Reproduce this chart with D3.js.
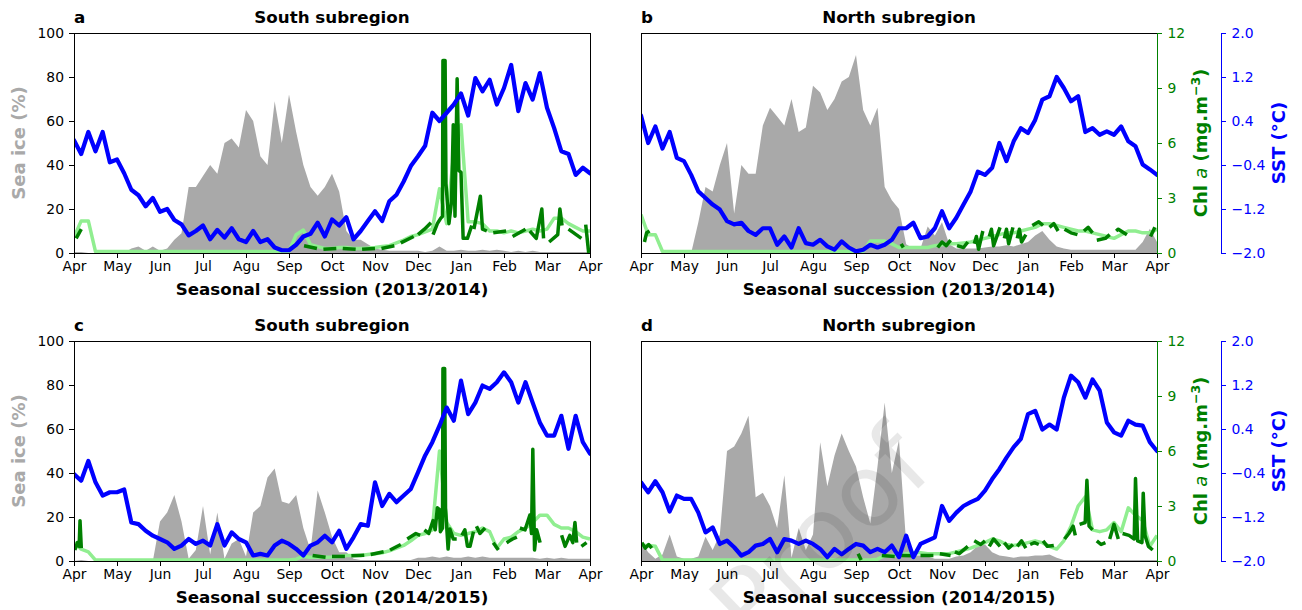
<!DOCTYPE html>
<html>
<head>
<meta charset="utf-8">
<script src="https://cdn.jsdelivr.net/npm/d3@7"></script>
<style>
  body { margin: 0; background: #fff; }
  text { font-family: "DejaVu Sans", sans-serif; }
</style>
</head>
<body>
<svg id="chart" width="1302" height="610"></svg>
<script>
// month ticks (season runs April -> April)
const monthLabels = ["Apr", "May", "Jun", "Jul", "Agu", "Sep", "Oct", "Nov", "Dec", "Jan", "Feb", "Mar", "Apr"];
const iceTicks = [0, 20, 40, 60, 80, 100];
const chlTicks = [0, 3, 6, 9, 12];
const sstTicks = [-2.0, -1.2, -0.4, 0.4, 1.2, 2.0];

// sampled series: one value every 1/6 month (~5 days), 73 values, Apr -> Apr
const STEP = 1 / 6;

// ---- a: South 2013/2014
const iceA = [0.5,0.5,0,0,0,0,0,0,2,3, 1,3,1,2,6,9,30,30,35,40, 36,50,52,48,65,60,44,40,69,50,
  72,55,40,30,26,30,36,28,10,6, 6,4,2,1.5,1,1,1,1,1,0.5, 1,3,1,1,1.5,1,1,1.5,1,1.5,
  1,0.5,1,0.5,1,0.5,0.5,0.5,0.5,0.5, 0.5,0.5,0.5];
const sstA = [0.05,-0.2,0.2,-0.15,0.2,-0.35,-0.3,-0.55,-0.85,-0.95, -1.15,-1.0,-1.25,-1.2,-1.4,-1.48,-1.68,-1.6,-1.5,-1.75,
  -1.58,-1.72,-1.55,-1.75,-1.8,-1.6,-1.8,-1.75,-1.9,-1.95, -1.95,-1.85,-1.7,-1.65,-1.45,-1.7,-1.39,-1.5,-1.35,-1.75,
  -1.6,-1.42,-1.24,-1.42,-1.06,-0.94,-0.7,-0.42,-0.24,-0.05, 0.55,0.4,0.55,0.7,0.9,0.5,1.18,0.94,1.15,0.7,
  1.0,1.42,0.58,1.09,0.79,1.27,0.64,0.27,-0.15,-0.2, -0.58,-0.45,-0.55];
const chlFillA = [0.85,1.75,1.75,0.08,0.08,0.08,0.08,0.08,0.08,0.08, 0.08,0.08,0.08,0.08,0.08,0.08,0.08,0.08,0.08,0.08,
  0.08,0.08,0.08,0.08,0.08,0.08,0.08,0.08,0.08,0.08, 0.08,1.0,1.25,0.45,0.35,0.25,0.25,0.3,0.3,0.25,
  0.25,0.27,0.3,0.35,0.4,0.55,0.7,0.9,1.0,1.15, 1.3,3.5,1.6,5.5,7.0,1.7,1.7,1.6,1.2,1.2,
  1.1,1.2,1.1,1.2,1.3,1.2,1.3,1.9,1.9,1.6, 1.4,1.2,1.2];
// observed chl: runs of [month, value] between missing days
const chlA = [
  [[0.05,0.8],[0.17,1.3]],
  [[5.35,0.4],[5.65,0.25]], [[5.8,0.2],[6.1,0.25]], [[6.25,0.25],[6.55,0.2]], [[6.7,0.2],[7.0,0.25]],
  [[7.15,0.25],[7.45,0.4]], [[7.6,0.55],[7.9,0.9]], [[8.0,1.0],[8.15,1.3],[8.3,1.65]],
  [[8.35,1.0],[8.45,1.6],[8.53,1.9],[8.57,2.0],[8.58,10.5],[8.63,10.5],[8.65,3.8],[8.72,1.6],[8.78,2.8],[8.82,7.0],
   [8.86,2.0],[8.91,9.5],[8.95,4.5],[9.0,4.4],[9.05,0.8],[9.15,0.8],[9.25,1.5]],
  [[9.3,1.3],[9.45,3.1],[9.5,1.3],[9.6,1.2]], [[9.75,1.1],[10.05,1.2]], [[10.2,0.9],[10.5,1.3]],
  [[10.6,1.2],[10.75,0.8],[10.88,2.4],[10.92,0.8]], [[11.05,0.6],[11.25,1.0],[11.3,2.4],[11.35,1.5]],
  [[11.5,1.3],[11.8,0.8]], [[11.9,1.55],[11.97,0.0]]
];

// ---- b: North 2013/2014
const iceB = [0,0,0,0,0,0,0,0,14,30, 28,40,50,18,40,36,36,58,66,62, 58,70,55,57,76,73,65,70,78,80,
  90,65,58,66,30,24,20,4,2,2, 12,8,14,4,2,2,2,2,2.5,3, 3,3.5,3,4,5,8,10,6,3,2,
  1.5,1.5,1.5,1.5,1.5,1.5,1.5,1.5,1.5,1.5, 5,11,5];
const sstB = [0.5,0.0,0.3,-0.1,0.2,-0.27,-0.33,-0.58,-0.88,-1.0, -1.12,-1.21,-1.42,-1.48,-1.45,-1.6,-1.67,-1.55,-1.55,-1.85,
  -1.7,-1.9,-1.55,-1.82,-1.85,-1.76,-1.88,-1.94,-1.79,-1.9, -1.97,-1.94,-1.85,-1.9,-1.85,-1.76,-1.55,-1.55,-1.45,-1.73,
  -1.7,-1.55,-1.24,-1.55,-1.36,-1.12,-0.88,-0.52,-0.58,-0.45, 0.0,-0.33,0.03,0.27,0.18,0.42,0.79,0.85,1.2,1.0,
  0.76,0.85,0.2,0.27,0.15,0.21,0.15,0.3,0.03,-0.06, -0.39,-0.48,-0.58];
const chlFillB = [2.1,1.0,1.0,0.08,0.08,0.08,0.08,0.08,0.08,0.08, 0.08,0.08,0.08,0.08,0.08,0.08,0.08,0.08,0.08,0.08,
  0.08,0.08,0.08,0.08,0.08,0.08,0.08,0.08,0.08,0.08, 0.08,0.08,0.65,0.65,0.65,0.5,0.3,0.3,0.3,0.3,
  0.3,0.4,0.45,0.5,0.5,0.55,0.6,0.7,0.8,0.9, 1.0,1.1,1.1,1.2,1.3,1.4,1.6,1.6,1.5,1.4,
  1.3,1.2,1.2,1.1,1.0,0.9,0.8,1.0,1.2,1.2, 1.1,1.1,1.3];
const chlB = [
  [[0.08,0.6],[0.13,1.1],[0.2,1.2]], [[6.05,0.5],[6.1,0.3]],
  [[6.9,0.3],[7.0,0.6],[7.1,0.4],[7.2,0.7]], [[7.35,0.4],[7.5,0.3],[7.6,0.6]],
  [[7.75,0.5],[7.8,0.9],[7.85,0.2],[7.95,1.2]], [[8.1,0.9],[8.15,1.3],[8.2,0.4],[8.35,1.4]],
  [[8.45,0.8],[8.5,1.3],[8.55,0.5],[8.65,1.4]], [[8.75,0.8],[8.8,1.3],[8.85,0.6],[8.95,1.0]],
  [[9.1,1.5],[9.25,1.7],[9.35,1.5]], [[9.5,1.4],[9.6,1.6],[9.7,1.2]], [[9.85,1.3],[10.0,1.1],[10.15,1.0]],
  [[10.3,1.2],[10.4,1.4],[10.5,1.1]], [[10.6,0.7],[10.8,0.8],[10.9,1.0]], [[11.05,1.2],[11.1,1.3],[11.3,1.0]],
  [[11.85,0.9],[11.95,1.4]]
];

// ---- c: South 2014/2015
const iceC = [0,0.5,0,0,0,0,0,0,0,0, 0,0,18,22,30,18,1,5,25,3, 22,1,8,10,2,22,25,38,42,27,
  26,30,15,5,32,22,11,4,4,1, 0.5,0.5,0.5,0.5,0.5,0.5,0.5,0.5,1.5,1.5, 2,1.5,2,1.5,1.5,2,1.5,2,1.5,1.5,
  1.5,1.5,1.5,1.5,1.5,1,1.5,1,1.5,1, 1,1,1];
const sstC = [-0.42,-0.54,-0.18,-0.57,-0.81,-0.75,-0.75,-0.7,-1.3,-1.33, -1.45,-1.54,-1.6,-1.66,-1.78,-1.72,-1.6,-1.69,-1.63,-1.72,
  -1.33,-1.72,-1.48,-1.6,-1.66,-1.9,-1.87,-1.9,-1.72,-1.63, -1.69,-1.78,-1.9,-1.72,-1.66,-1.54,-1.66,-1.45,-1.78,-1.57,
  -1.33,-1.36,-0.57,-1.0,-0.78,-0.93,-0.81,-0.69,-0.39,-0.08, 0.16,0.46,0.79,0.55,1.28,0.67,0.88,1.19,1.13,1.25,
  1.43,1.25,0.88,1.25,0.88,0.52,0.28,0.28,0.64,0.04, 0.64,0.16,-0.05];
const chlFillC = [1.0,0.65,0.5,0.05,0.05,0.05,0.05,0.05,0.05,0.05, 0.05,0.05,0.05,0.05,0.05,0.05,0.05,0.05,0.05,0.05,
  0.05,0.05,0.05,0.05,0.05,0.05,0.05,0.05,0.05,0.05, 0.05,0.1,0.25,0.2,0.2,0.2,0.22,0.25,0.3,0.3,
  0.3,0.35,0.4,0.45,0.55,0.7,0.85,1.1,1.4,1.5, 1.7,6.0,2.1,1.5,1.4,1.5,1.6,1.8,1.6,0.7,
  1.2,1.3,1.6,1.8,2.1,2.5,2.5,2.0,1.8,1.8, 1.6,1.3,1.2];
const chlC = [
  [[0.02,0.6],[0.08,1.0],[0.12,0.8],[0.14,2.2],[0.17,0.7]],
  [[5.55,0.3],[5.85,0.2]], [[6.0,0.25],[6.3,0.25]], [[6.45,0.28],[6.75,0.32]], [[6.9,0.35],[7.2,0.5]],
  [[7.35,0.6],[7.6,0.9]], [[7.75,1.2],[7.95,1.5],[8.05,1.4]],
  [[8.15,1.7],[8.25,1.5],[8.35,2.2],[8.4,1.7],[8.45,2.9],[8.5,2.8],[8.52,1.6],[8.57,1.8],[8.58,10.5],[8.62,10.5],
   [8.64,2.9],[8.7,0.65],[8.74,1.75],[8.82,1.2],[8.9,1.2]],
  [[9.02,1.4],[9.09,1.7],[9.15,0.8],[9.21,0.8],[9.29,1.6]], [[9.36,1.9],[9.44,1.5],[9.56,1.8]],
  [[9.75,1.0],[9.87,0.6]], [[10.06,1.0],[10.2,1.2],[10.3,1.3]],
  [[10.37,1.8],[10.49,1.7],[10.6,2.5],[10.64,1.5],[10.67,6.1],[10.71,0.6],[10.76,1.7],[10.84,1.0]],
  [[11.34,1.4],[11.42,0.8],[11.53,1.4],[11.6,1.0],[11.65,2.1],[11.69,1.0]], [[11.8,0.8],[11.92,1.0]]
];

// ---- d: North 2014/2015
const iceD = [9,4,1,3,12,2,1,1,2,11, 5,12,50,52,58,66,29,31,25,15, 39,1.5,15,5,12,54,34,48,58,50,
  43,29,17,43,72,40,55,8,2.5,2.5, 2,1,1,1,2,2.5,4,7,7.5,4, 2.5,2,1.5,2,2,2.5,2.5,3,1.5,0.5,
  0.5,0.5,0.5,0.5,0.5,0.5,0.5,0.5,0.5,0.5, 0.5,0.5,0.5];
const sstD = [-0.57,-0.75,-0.55,-0.75,-1.1,-0.81,-0.87,-0.87,-1.12,-1.48, -1.39,-1.69,-1.63,-1.75,-1.9,-1.84,-1.72,-1.69,-1.6,-1.84,
  -1.6,-1.63,-1.69,-1.63,-1.69,-1.78,-1.93,-1.78,-1.88,-1.78, -1.69,-1.72,-1.84,-1.78,-1.84,-1.72,-1.93,-1.54,-1.93,-1.69,
  -1.63,-1.57,-1.0,-1.27,-1.12,-1.0,-0.93,-0.87,-0.72,-0.51, -0.33,-0.12,0.07,0.22,0.67,0.73,0.39,0.48,0.39,0.97,
  1.37,1.25,0.97,1.3,1.1,0.52,0.34,0.28,0.55,0.48, 0.46,0.16,0.0];
const chlFillD = [0.85,0.85,0.8,0.05,0.05,0.05,0.05,0.05,0.05,0.05, 0.05,0.05,0.05,0.05,0.05,0.05,0.05,0.05,0.05,0.05,
  0.05,0.05,0.05,0.05,0.05,0.05,0.05,0.05,0.05,0.05, 0.05,0.05,0.05,0.1,0.3,0.3,0.3,0.4,0.45,0.45,
  0.4,0.4,0.4,0.4,0.5,0.6,0.7,0.85,1.0,1.2, 1.1,0.9,0.85,0.9,1.0,1.1,1.0,0.8,0.65,1.1,
  1.9,3.0,3.5,1.7,1.6,1.7,2.1,1.6,2.9,2.5, 2.2,0.8,1.4];
const chlD = [
  [[0.02,1.0],[0.1,0.7],[0.18,0.9],[0.25,0.7]], [[5.05,0.4],[5.12,0.05]],
  [[5.6,0.3],[5.9,0.25]], [[6.05,0.3],[6.35,0.28]], [[6.5,0.3],[6.8,0.3]], [[6.95,0.4],[7.2,0.3]],
  [[7.3,0.5],[7.4,0.4],[7.6,0.8]], [[7.75,1.1],[7.9,0.9],[8.0,1.1]], [[8.1,0.8],[8.2,1.2],[8.35,0.8]],
  [[8.45,1.0],[8.55,0.7],[8.65,0.9]], [[8.75,0.8],[8.85,1.1],[8.95,0.7]], [[9.05,0.9],[9.15,1.0],[9.25,0.9]],
  [[9.35,1.1],[9.45,0.8],[9.6,0.85]], [[9.85,1.2],[9.95,1.5],[10.05,1.9],[10.1,1.4]],
  [[10.2,2.0],[10.33,2.1],[10.37,4.4],[10.42,1.9],[10.5,1.7]], [[10.6,1.1],[10.7,0.9],[10.8,1.0]],
  [[10.9,1.2],[11.0,2.0],[11.1,1.2]],
  [[11.2,1.5],[11.35,1.4],[11.47,1.2],[11.5,4.5],[11.55,1.1],[11.65,1.0],[11.68,3.7],[11.72,1.4],[11.8,0.8],[11.9,0.6]]
];


const COLORS = {
    ice: "#a9a9a9",
    chlFill: "#90ee90",
    chl: "green",
    sst: "blue"
};

const W = 516, H = 220;

const panels = [
    { tag: "a", title: "South subregion", season: "2013/2014", ice: iceA, sst: sstA, fill: chlFillA, chl: chlA, left: 74, top: 33, first: true },
    { tag: "b", title: "North subregion", season: "2013/2014", ice: iceB, sst: sstB, fill: chlFillB, chl: chlB, left: 641, top: 33, first: false },
    { tag: "c", title: "South subregion", season: "2014/2015", ice: iceC, sst: sstC, fill: chlFillC, chl: chlC, left: 74, top: 341, first: true },
    { tag: "d", title: "North subregion", season: "2014/2015", ice: iceD, sst: sstD, fill: chlFillD, chl: chlD, left: 641, top: 341, first: false }
];

const svg = d3.select("#chart");

const x = d3.scaleLinear().domain([0, 12]).range([0, W]);
const yIce = d3.scaleLinear().domain([0, 100]).range([H, 0]);
const yChl = d3.scaleLinear().domain([0, 12]).range([H, 0]);
const ySst = d3.scaleLinear().domain([-2, 2]).range([H, 0]);

const iceArea = d3.area()
    .x((d, i) => x(i * STEP))
    .y0(H)
    .y1(d => yIce(d));
const fillLine = d3.line()
    .x((d, i) => x(i * STEP))
    .y(d => yChl(d));
const chlLine = d3.line()
    .x(d => x(d[0]))
    .y(d => yChl(d[1]));
const sstLine = d3.line()
    .x((d, i) => x(i * STEP))
    .y(d => ySst(d));

function styleTicks(g, color) {
    g.selectAll(".tick text")
        .style("font-size", "13.9px")
        .attr("fill", color);
    g.selectAll(".tick line").attr("stroke", color);
}

panels.forEach((p, k) => {
    const g = svg.append("g").attr("transform", `translate(${p.left},${p.top})`);

    const clipId = "clip" + k;
    g.append("clipPath").attr("id", clipId)
        .append("rect").attr("x", 0).attr("y", 0).attr("width", W + 1).attr("height", H + 1);

    const plot = g.append("g").attr("clip-path", `url(#${clipId})`);

    plot.append("path")
        .attr("d", iceArea(p.ice))
        .attr("fill", COLORS.ice);

    plot.append("path")
        .attr("d", fillLine(p.fill))
        .attr("fill", "none")
        .attr("stroke", COLORS.chlFill)
        .attr("stroke-width", 3.5)
        .attr("stroke-linejoin", "round");

    // observed chl, one path per run of consecutive days
    plot.selectAll("path.chl")
        .data(p.chl)
        .enter()
        .append("path")
        .attr("class", "chl")
        .attr("d", chlLine)
        .attr("fill", "none")
        .attr("stroke", COLORS.chl)
        .attr("stroke-width", 3.5)
        .attr("stroke-linejoin", "round");

    plot.append("path")
        .attr("d", sstLine(p.sst))
        .attr("fill", "none")
        .attr("stroke", COLORS.sst)
        .attr("stroke-width", 4.2)
        .attr("stroke-linejoin", "round")
        .attr("stroke-linecap", "round");

    // frame
    g.append("rect")
        .attr("x", 0.5).attr("y", 0.5)
        .attr("width", W).attr("height", H)
        .attr("fill", "none").attr("stroke", "#000").attr("stroke-width", 1);

    // x axis
    const xa = g.append("g").attr("transform", `translate(0,${H})`)
        .call(d3.axisBottom(x).tickValues(d3.range(13)).tickFormat(i => monthLabels[i])
            .tickSize(5).tickPadding(3.5));
    xa.select(".domain").remove();
    styleTicks(xa, "#000");

    if (p.first) {
        const ya = g.append("g")
            .call(d3.axisLeft(yIce).tickValues(iceTicks).tickSize(5).tickPadding(5));
        ya.select(".domain").remove();
        styleTicks(ya, "#000");

        g.append("text")
            .attr("transform", `translate(${25 - p.left},${H / 2}) rotate(-90)`)
            .attr("text-anchor", "middle")
            .attr("fill", "darkgray")
            .style("font-size", "18px").style("font-weight", "bold")
            .text("Sea ice (%)");
    } else {
        // chl axis on the right spine
        const ca = g.append("g").attr("transform", `translate(${W},0)`)
            .call(d3.axisRight(yChl).tickValues(chlTicks).tickSize(5).tickPadding(5.5).tickSizeOuter(0));
        ca.select(".domain").attr("stroke", COLORS.chl);
        styleTicks(ca, COLORS.chl);

        // detached SST axis
        const sa = g.append("g").attr("transform", `translate(${W + 64},0)`)
            .call(d3.axisRight(ySst).tickValues(sstTicks).tickFormat(d3.format(".1f"))
                .tickSize(5).tickPadding(5.5).tickSizeOuter(0));
        sa.select(".domain").attr("stroke", COLORS.sst);
        styleTicks(sa, COLORS.sst);

        const cl = g.append("text")
            .attr("transform", `translate(${W + 50},${H / 2}) rotate(-90)`)
            .attr("text-anchor", "middle")
            .attr("fill", COLORS.chl)
            .style("font-size", "18px").style("font-weight", "bold");
        cl.append("tspan").text("Chl ");
        cl.append("tspan").style("font-style", "italic").style("font-weight", "normal").text("a");
        cl.append("tspan").text(" (mg.m");
        cl.append("tspan").attr("dy", -7).style("font-size", "12.5px").text("\u22123");
        cl.append("tspan").attr("dy", 7).text(")");

        g.append("text")
            .attr("transform", `translate(${W + 128},${H / 2}) rotate(-90)`)
            .attr("text-anchor", "middle")
            .attr("fill", COLORS.sst)
            .style("font-size", "18px").style("font-weight", "bold")
            .text("SST (\u00b0C)");
    }

    // titles
    g.append("text")
        .attr("x", 0).attr("y", -10)
        .style("font-size", "16.7px").style("font-weight", "bold")
        .text(p.tag);
    g.append("text")
        .attr("x", W / 2).attr("y", -10)
        .attr("text-anchor", "middle")
        .style("font-size", "16.7px").style("font-weight", "bold")
        .text(p.title);

    g.append("text")
        .attr("x", W / 2).attr("y", H + 41.5)
        .attr("text-anchor", "middle")
        .style("font-size", "16.7px").style("font-weight", "bold")
        .text(`Seasonal succession (${p.season})`);
});

// faint proof watermark
svg.append("text")
    .attr("transform", "translate(844,560) rotate(-44)")
    .attr("text-anchor", "middle")
    .attr("fill", "#000")
    .attr("fill-opacity", 0.09)
    .style("font-size", "100px")
    .text("Proof");
</script>
</body>
</html>
